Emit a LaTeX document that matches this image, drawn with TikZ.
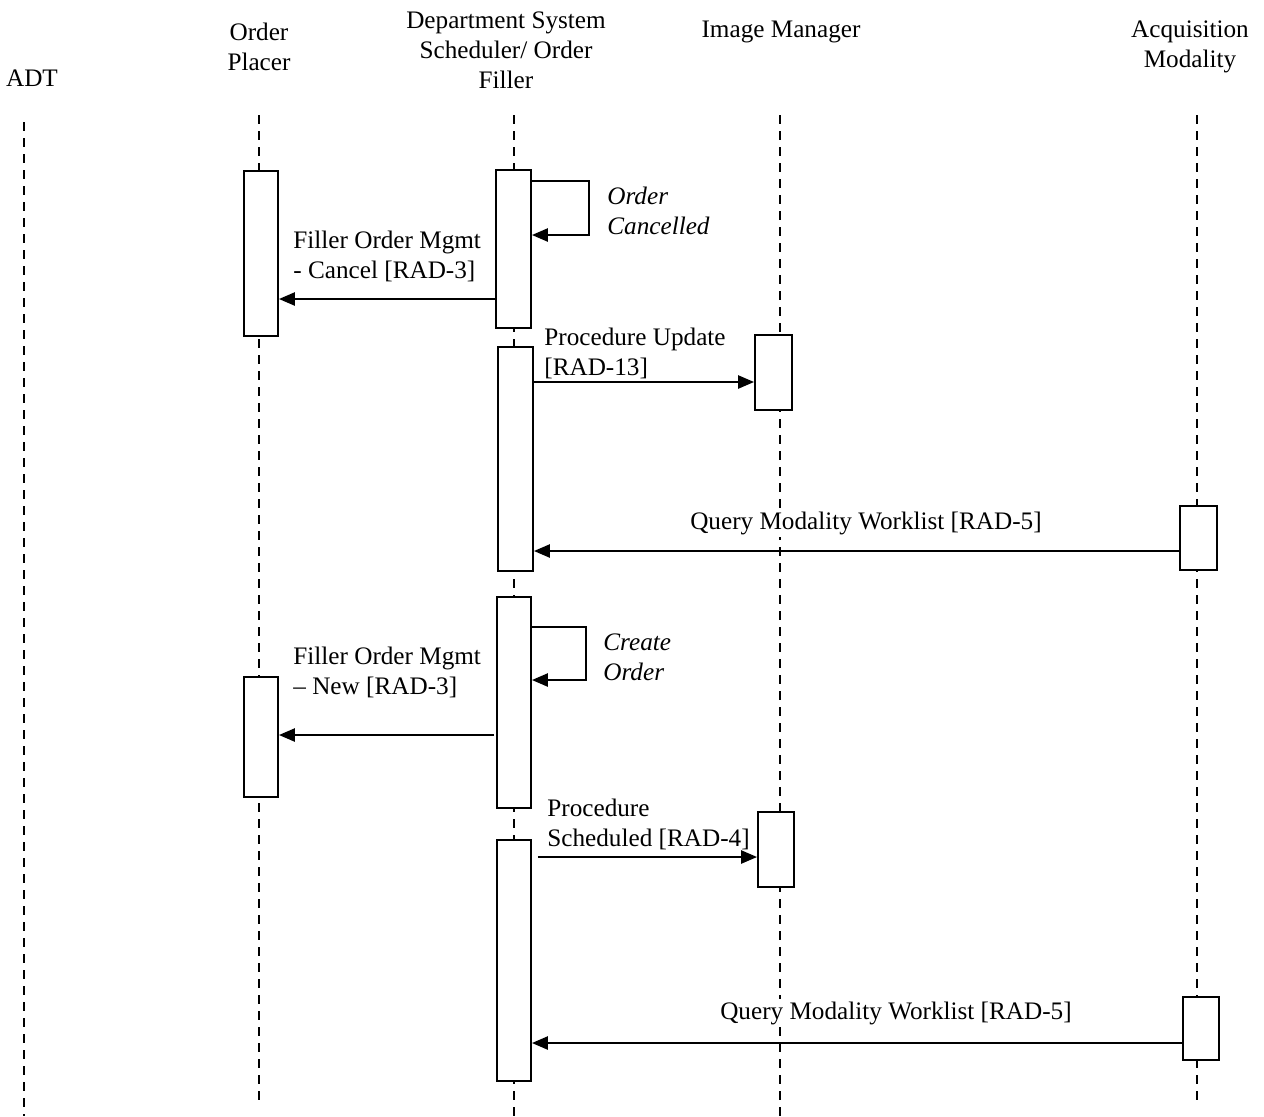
\documentclass[tikz,border=0pt]{standalone}
\usepackage{fontspec}
\setmainfont{Liberation Serif}
\usetikzlibrary{arrows.meta,fit}
\begin{document}
\begin{tikzpicture}[x=0.5pt,y=-0.5pt,
  every node/.style={font=\fontsize{12.6}{15}\selectfont, inner sep=0pt},
  life/.style={dash pattern=on 4.5pt off 3.5pt, line width=0.6pt},
  act/.style={draw, fill=white, line width=0.9pt, inner sep=0pt},
  msg/.style={line width=1.2pt, -{Triangle[length=8pt,width=6.5pt]}},
  head/.style={align=center},
  lbl/.style={align=left, anchor=west},
  qlbl/.style={fill=white, inner sep=1.5pt},
  ilbl/.style={align=left, anchor=west, font=\fontsize{12.6}{15}\selectfont\itshape}]
\useasboundingbox (0,0) rectangle (1264,1116);
% headers
\node[head] (hADT) at (32,78) {ADT};
\node[head] (hOP) at (259,47) {Order\\Placer};
\node[head] (hDSS) at (506,50) {Department System\\Scheduler/ Order\\Filler};
\node[head] (hIM) at (781,32) {Image Manager};
\node[head] (hAM) at (1190,47) {Acquisition\\Modality};
% lifelines
\coordinate (eADT) at (24,1116);
\coordinate (eOP) at (259,1103);
\coordinate (eDSS) at (514,1116);
\coordinate (eIM) at (780,1116);
\coordinate (eAM) at (1197,1103);
\draw[life] (24,122) -- (eADT);
\draw[life] (259,115) -- (eOP);
\draw[life] (514,115) -- (eDSS);
\draw[life] (780,115) -- (eIM);
\draw[life] (1197,115) -- (eAM);
% activation boxes
\node[act, fit={(244,171) (278,336)}] (op1) {};
\node[act, fit={(496,170) (531,328)}] (dss1) {};
\node[act, fit={(498,347) (533,571)}] (dss2) {};
\node[act, fit={(755,335) (792,410)}] (im1) {};
\node[act, fit={(1180,506) (1217,570)}] (am1) {};
\node[act, fit={(497,597) (531,808)}] (dss3) {};
\node[act, fit={(244,677) (278,797)}] (op2) {};
\node[act, fit={(758,812) (794,887)}] (im2) {};
\node[act, fit={(497,840) (531,1081)}] (dss4) {};
\node[act, fit={(1183,997) (1219,1060)}] (am2) {};
% self loop 1
\draw[msg] (dss1.east |- 0,181) -- (589,181) -- (589,235) -- (dss1.east |- 0,235);
\node[ilbl] (l1) at (607,211) {Order\\Cancelled};
% cancel
\draw[msg] (dss1.west |- 0,299) -- (op1.east |- 0,299);
\node[lbl] (l2) at (293,256) {Filler Order Mgmt\\- Cancel [RAD-3]};
% procedure update
\draw[msg] (dss2.east |- 0,382) -- (im1.west |- 0,382);
\node[lbl] (l3) at (544,353) {Procedure Update\\{[RAD-13]}};
% query 1
\draw[msg] (am1.west |- 0,551) -- (dss2.east |- 0,551);
\node[qlbl] (l4) at (866,523) {Query Modality Worklist [RAD-5]};
% self loop 2
\draw[msg] (dss3.east |- 0,627) -- (586,627) -- (586,680) -- (dss3.east |- 0,680);
\node[ilbl] (l5) at (603,657) {Create\\Order};
% new
\draw[msg] ([xshift=-1pt]dss3.west |- 0,735) -- (op2.east |- 0,735);
\node[lbl] (l6) at (293,672) {Filler Order Mgmt\\– New [RAD-3]};
% procedure scheduled
\draw[msg] ([xshift=3pt]dss4.east |- 0,857) -- (im2.west |- 0,857);
\node[lbl] (l7) at (547,824) {Procedure\\Scheduled [RAD-4]};
% query 2
\draw[msg] (am2.west |- 0,1043) -- (dss4.east |- 0,1043);
\node[qlbl] (l8) at (896,1013) {Query Modality Worklist [RAD-5]};
\end{tikzpicture}
\end{document}
